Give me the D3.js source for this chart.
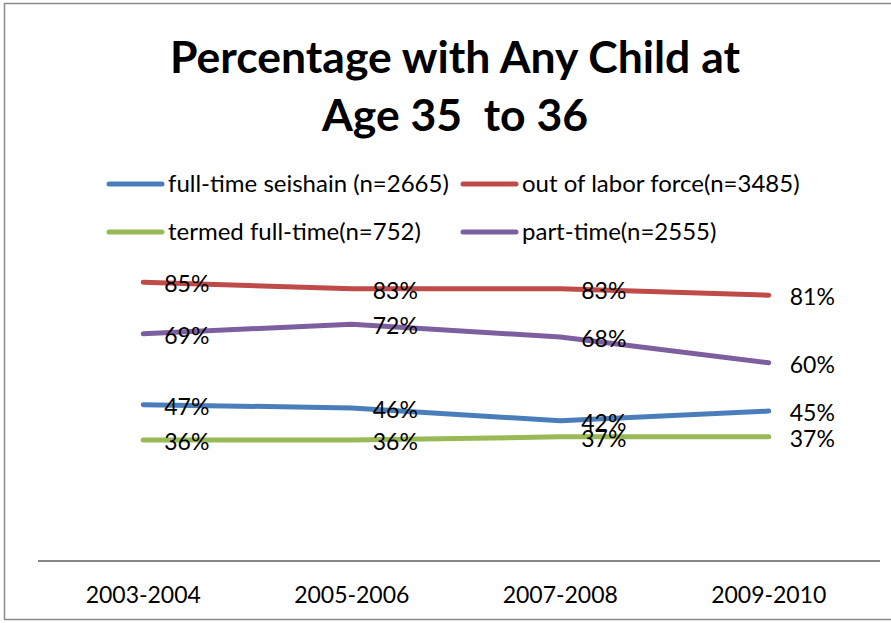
<!DOCTYPE html>
<html>
<head>
<meta charset="utf-8">
<script src="https://cdn.jsdelivr.net/npm/d3@7"></script>
<style>
  body { margin: 0; background: #fff; }
  text { font-family: Lato, "Open Sans", sans-serif; fill: #000; }
</style>
</head>
<body>
<div id="chart"></div>
<script>
// data
var periods = ["2003-2004", "2005-2006", "2007-2008", "2009-2010"];
var seriesNames = ["full-time seishain (n=2665)", "out of labor force(n=3485)", "termed full-time(n=752)", "part-time(n=2555)"];
var fullTime = [47, 46, 42, 45];
var outOfLabor = [85, 83, 83, 81];
var termed = [36, 36, 37, 37];
var partTime = [69, 72, 68, 60];
var colors = ["#4a7ebb", "#be4b48", "#98b954", "#7d5fa0"];

function init() {
    const width = 891;
    const height = 623;

    var series = [fullTime, outOfLabor, termed, partTime].map(function(vals, i) {
      return {
        name: seriesNames[i],
        color: colors[i],
        values: vals.map(function(v, j) { return { period: periods[j], value: v }; })
      };
    });

    var svg = d3.select("#chart").append("svg")
      .attr("width", width)
      .attr("height", height);

    // frame
    svg.append("rect")
      .attr("x", 4.5).attr("y", 3.5)
      .attr("width", 920).attr("height", 616)
      .attr("fill", "none")
      .attr("stroke", "#8a8a8a")
      .attr("stroke-width", 1.5);

    // title
    var title = svg.append("text")
      .attr("text-anchor", "middle")
      .style("font-weight", "bold")
      .style("font-size", "44.5px");
    title.append("tspan").attr("x", 455).attr("y", 73).text("Percentage with Any Child at");
    title.append("tspan").attr("x", 455).attr("y", 131).text("Age 35\u00a0 to 36");

    var xScale = d3.scaleBand().domain(periods).range([39, 873]);
    var yScale = d3.scaleLinear().domain([0, 100]).range([556, 234]);
    var cx = function(p) { return xScale(p) + xScale.bandwidth() / 2; };

    // x axis
    var xAxis = d3.axisBottom(xScale).tickSize(0).tickSizeOuter(0).tickPadding(26);
    var gx = svg.append("g").attr("transform", "translate(0,561)").call(xAxis);
    gx.select(".domain").attr("stroke", "#868686").attr("stroke-width", 2)
      .attr("d", "M38,0H880");
    gx.selectAll(".tick text").style("font-size", "23px").style("font-family", "Lato, sans-serif").attr("fill", "#000");

    // lines
    var line = d3.line()
      .x(function(d) { return cx(d.period); })
      .y(function(d) { return yScale(d.value); });

    svg.selectAll(".series")
      .data(series)
      .enter()
      .append("path")
      .attr("class", "series")
      .attr("d", function(d) { return line(d.values); })
      .attr("fill", "none")
      .attr("stroke", function(d) { return d.color; })
      .attr("stroke-width", 5)
      .attr("stroke-linecap", "round")
      .attr("stroke-linejoin", "round");

    // data labels, right of each point
    series.forEach(function(s) {
      svg.selectAll(null)
        .data(s.values)
        .enter()
        .append("text")
        .attr("x", function(d) { return cx(d.period) + 21; })
        .attr("y", function(d) { return yScale(d.value) + 10; })
        .style("font-size", "23px")
        .text(function(d) { return d.value + "%"; });
    });

    // legend
    var legendPos = [[109, 184], [463, 184], [109, 232], [463, 232]];
    var legend = svg.selectAll(".legend")
      .data(series)
      .enter()
      .append("g")
      .attr("class", "legend")
      .attr("transform", function(d, i) { return "translate(" + legendPos[i][0] + "," + legendPos[i][1] + ")"; });
    legend.append("line")
      .attr("x1", 0).attr("x2", 53)
      .attr("stroke", function(d) { return d.color; })
      .attr("stroke-width", 5)
      .attr("stroke-linecap", "round");
    legend.append("text")
      .attr("x", 59)
      .attr("y", 8)
      .style("font-size", "24px")
      .text(function(d) { return d.name; });
}

window.onload = init;
</script>
</body>
</html>
